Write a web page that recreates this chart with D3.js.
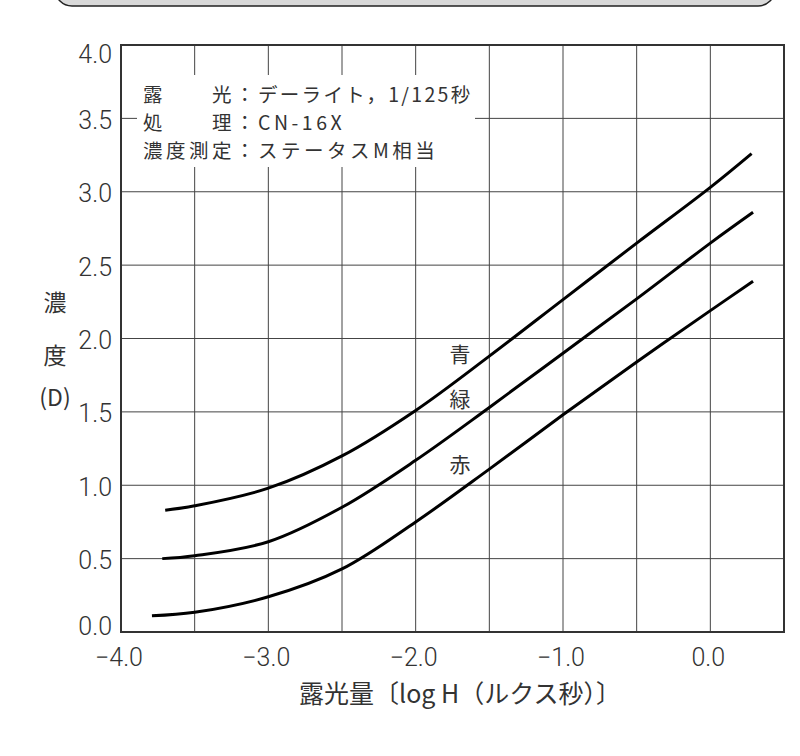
<!DOCTYPE html>
<html>
<head>
<meta charset="utf-8">
<script src="https://cdn.jsdelivr.net/npm/d3@7"></script>
<style>
  html, body { margin: 0; padding: 0; background: #fff; }
  svg { display: block; }
</style>
</head>
<body>
<svg id="chart" width="800" height="756"></svg>
<script>
// ---- data ----
const xTicks = [-4.0, -3.0, -2.0, -1.0, 0.0];
const xTickLabels = ["−4.0", "−3.0", "−2.0", "−1.0", "0.0"];
const yTicks = [0.0, 0.5, 1.0, 1.5, 2.0, 2.5, 3.0, 3.5, 4.0];
const yTickLabels = ["0.0", "0.5", "1.0", "1.5", "2.0", "2.5", "3.0", "3.5", "4.0"];
const xGrid = [-3.5, -3.0, -2.5, -2.0, -1.5, -1.0, -0.5, 0.0];
const yGrid = [0.5, 1.0, 1.5, 2.0, 2.5, 3.0, 3.5];

const blueX = [-3.70, -3.5, -3.0, -2.5, -2.0, -1.5, -1.0, -0.5, 0.0, 0.28];
const blueY = [0.83, 0.86, 0.98, 1.20, 1.51, 1.88, 2.265, 2.65, 3.03, 3.26];
const greenX = [-3.72, -3.5, -3.0, -2.5, -2.0, -1.5, -1.0, -0.5, 0.0, 0.29];
const greenY = [0.50, 0.52, 0.615, 0.85, 1.17, 1.53, 1.90, 2.27, 2.65, 2.86];
const redX = [-3.79, -3.5, -3.0, -2.5, -2.0, -1.5, -1.0, -0.5, 0.0, 0.29];
const redY = [0.11, 0.134, 0.24, 0.43, 0.75, 1.11, 1.48, 1.84, 2.19, 2.39];

const seriesNames = ["青", "緑", "赤"];
const legendKeys = ["露　　光", "処　　理", "濃度測定"];
const legendValues = ["デーライト，1/125秒", "CN-16X", "ステータスM相当"];
const yTitle = ["濃", "度", "(D)"];
const xTitle = "露光量〔log H（ルクス秒）〕";

// ---- drawing ----
const svg = d3.select("#chart");
const x = d3.scaleLinear().domain([-4, 0.5]).range([121, 784]);
const y = d3.scaleLinear().domain([0, 4]).range([632, 45]);
const cjk = "'Noto Sans CJK JP', 'Noto Sans', sans-serif";
const num = "Roboto, 'Liberation Sans', sans-serif";
const ink = "#333";

// top banner (rounded box cut by the top edge)
svg.append("rect")
  .attr("x", 55).attr("y", -40).attr("width", 720).attr("height", 46)
  .attr("rx", 17).attr("ry", 17)
  .attr("fill", "#d9d9d9").attr("stroke", "#222").attr("stroke-width", 1.5);

// grid
const g = svg.append("g");
g.selectAll("line.vx").data(xGrid).join("line")
  .attr("class", "vx")
  .attr("x1", d => x(d)).attr("x2", d => x(d))
  .attr("y1", y(0)).attr("y2", y(4))
  .attr("stroke", "#444").attr("stroke-width", 1);
g.selectAll("line.hy").data(yGrid).join("line")
  .attr("class", "hy")
  .attr("x1", x(-4)).attr("x2", x(0.5))
  .attr("y1", d => y(d)).attr("y2", d => y(d))
  .attr("stroke", "#444").attr("stroke-width", 1);

// white box behind the conditions text
svg.append("rect")
  .attr("x", 137).attr("y", 75).attr("width", 338).attr("height", 92)
  .attr("fill", "#fff");

// frame
svg.append("rect")
  .attr("x", x(-4)).attr("y", y(4))
  .attr("width", x(0.5) - x(-4)).attr("height", y(0) - y(4))
  .attr("fill", "none").attr("stroke", "#333").attr("stroke-width", 2);

// curves
const line = d3.line().x(d => x(d[0])).y(d => y(d[1])).curve(d3.curveCatmullRom.alpha(0.5));
const series = [
  d3.zip(blueX, blueY),
  d3.zip(greenX, greenY),
  d3.zip(redX, redY)
];
svg.selectAll("path.curve").data(series).join("path")
  .attr("class", "curve")
  .attr("d", line)
  .attr("fill", "none").attr("stroke", "#000").attr("stroke-width", 3)
  .attr("stroke-linecap", "butt");

// series labels
const labelPos = [[460, 353], [460, 398], [460, 463]];
svg.selectAll("text.sl").data(seriesNames).join("text")
  .attr("class", "sl")
  .attr("x", (d, i) => labelPos[i][0]).attr("y", (d, i) => labelPos[i][1])
  .attr("text-anchor", "middle").attr("dominant-baseline", "central")
  .attr("font-family", cjk).attr("font-size", 21).attr("fill", ink)
  .text(d => d);

// conditions text
const valueSpacing = [2.3, 3.5, 3.5];
const lg = svg.selectAll("text.lg").data(legendKeys).join("text")
  .attr("class", "lg")
  .attr("x", 143).attr("y", (d, i) => 92.5 + i * 28.35)
  .attr("dominant-baseline", "central")
  .attr("font-family", cjk).attr("font-size", 19.5)
  .attr("fill", ink);
lg.append("tspan").attr("letter-spacing", 3.5).text(d => d + "：");
lg.append("tspan").attr("letter-spacing", (d, i) => valueSpacing[i]).text((d, i) => legendValues[i]);

// y tick labels
svg.selectAll("text.yt").data(yTicks).join("text")
  .attr("class", "yt")
  .attr("x", 112)
  .attr("y", d => d === 4 ? y(d) + 9 : d === 0 ? y(d) - 6 : y(d) + 2)
  .attr("text-anchor", "end").attr("dominant-baseline", "central")
  .attr("font-family", num).attr("font-weight", 300).attr("font-size", 25)
  .attr("fill", ink)
  .text((d, i) => yTickLabels[i]);

// x tick labels
svg.selectAll("text.xt").data(xTicks).join("text")
  .attr("class", "xt")
  .attr("x", d => x(d) - 2).attr("y", 657)
  .attr("text-anchor", "middle").attr("dominant-baseline", "central")
  .attr("font-family", num).attr("font-weight", 300).attr("font-size", 25)
  .attr("fill", ink)
  .text((d, i) => xTickLabels[i]);

// axis titles
svg.append("text")
  .attr("x", 460).attr("y", 692)
  .attr("text-anchor", "middle").attr("dominant-baseline", "central")
  .attr("font-family", cjk).attr("font-size", 25).attr("fill", ink)
  .text(xTitle);

const yTitlePos = [301, 354, 396];
svg.selectAll("text.ytl").data(yTitle).join("text")
  .attr("class", "ytl")
  .attr("x", 55).attr("y", (d, i) => yTitlePos[i])
  .attr("text-anchor", "middle").attr("dominant-baseline", "central")
  .attr("font-family", cjk).attr("font-size", 23)
  .attr("fill", ink)
  .text(d => d);
</script>
</body>
</html>
